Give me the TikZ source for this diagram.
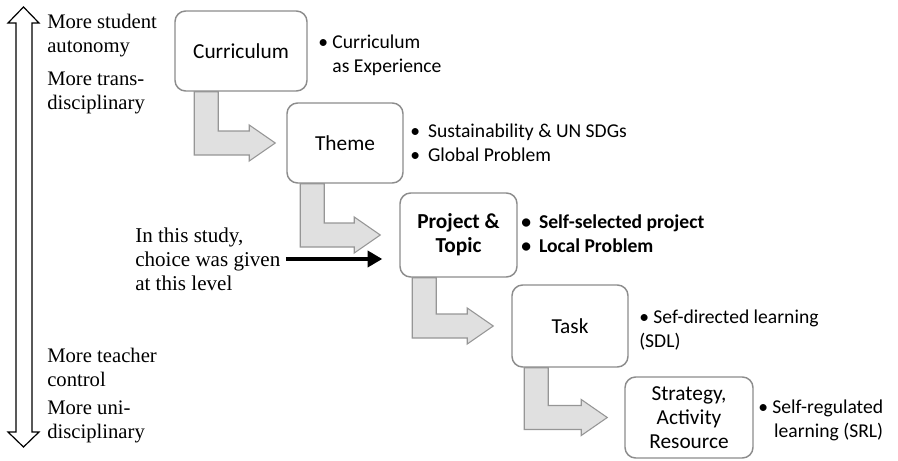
\documentclass[tikz,border=0pt]{standalone}
\usepackage{fontspec}
\setmainfont{Liberation Serif}
\newfontfamily\calfont{Carlito}
\usetikzlibrary{calc,arrows.meta}

\def\pxu{0.75pt}
\definecolor{boxline}{RGB}{140,140,140}
\definecolor{arrowfill}{RGB}{224,224,224}
\definecolor{arrowline}{RGB}{150,150,150}

\tikzset{
  level/.style={draw=boxline, line width=1.1pt, rounded corners=8pt, fill=white,
    align=center, inner sep=2pt, font=\calfont\fontsize{16}{18}\selectfont},
  notes/.style={anchor=west, align=left, inner sep=0pt,
    font=\calfont\fontsize{14.7}{18}\selectfont},
  side/.style={anchor=west, align=left, inner sep=0pt,
    font=\fontsize{15.5}{18}\selectfont},
  bent/.style={fill=arrowfill, draw=arrowline, line width=0.8pt},
}

% bent block arrow: from box #1 down and right into box #2
% #3 = shaft offset from the left side of #1, #4 = gap before #2
\newcommand\bentarrow[4]{%
  \draw[bent] let \p1=(#1.south west), \p2=(#2.west) in
    (\x1+#3*\pxu,\y1) -- (\x1+#3*\pxu,\y2-12*\pxu)
    -- (\x2-#4*\pxu-26*\pxu,\y2-12*\pxu) -- (\x2-#4*\pxu-26*\pxu,\y2-18*\pxu)
    -- (\x2-#4*\pxu,\y2)
    -- (\x2-#4*\pxu-26*\pxu,\y2+18*\pxu) -- (\x2-#4*\pxu-26*\pxu,\y2+12*\pxu)
    -- (\x1+#3*\pxu+24*\pxu,\y2+12*\pxu) -- (\x1+#3*\pxu+24*\pxu,\y1) -- cycle;
}

\begin{document}
\begin{tikzpicture}[x=\pxu, y=-\pxu]
  \useasboundingbox (0,0) rectangle (898,460);

  % autonomy scale
  \draw[line width=0.9pt, fill=white] (23.5,7) -- (39,23) -- (32,23) -- (32,432)
    -- (39,432) -- (23.5,447) -- (8,432) -- (16,432) -- (16,23) -- (8,23) -- cycle;
  \node[side] (auto) at (47,36) {More student\\autonomy};
  \node[side] (trans) at (47,93) {More trans-\\disciplinary};
  \node[side] (teach) at (47,367) {More teacher\\control};
  \node[side] (uni) at (47,422) {More uni-\\disciplinary};

  % levels
  \node[level, minimum width=132*\pxu, minimum height=80*\pxu] (cur) at (241,51) {Curriculum};
  \node[level, minimum width=116*\pxu, minimum height=80*\pxu] (theme) at (345,143) {Theme};
  \node[level, minimum width=117*\pxu, minimum height=84*\pxu, font=\calfont\bfseries\fontsize{16}{18}\selectfont]
    (proj) at (458.5,235) {Project \&\\Topic};
  \node[level, minimum width=116*\pxu, minimum height=82*\pxu] (task) at (570,326) {Task};
  \node[level, minimum width=128*\pxu, minimum height=81*\pxu] (strat) at (689,417.5)
    {Strategy,\\Activity\\Resource};

  \bentarrow{cur}{theme}{20}{11}
  \bentarrow{theme}{proj}{14}{19}
  \bentarrow{proj}{task}{13}{18}
  \bentarrow{task}{strat}{13}{17}

  % notes
  \node[notes] (curnote) at (318,55) {\textbullet\ Curriculum\\\phantom{\textbullet\ }as Experience};
  \node[notes] (themenote) at (410,143) {\textbullet\hspace{6pt}Sustainability \& UN SDGs\\\textbullet\hspace{6pt}Global Problem};
  \node[notes, font=\calfont\bfseries\fontsize{14.7}{18}\selectfont] (projnote) at (521,234)
    {\textbullet\hspace{6pt}Self-selected project\\\textbullet\hspace{6pt}Local Problem};
  \node[notes] (tasknote) at (639,330) {\textbullet\ Sef-directed learning\\(SDL)};
  \node[notes, align=right] (stratnote) at (758,420) {\textbullet\ Self-regulated\\learning (SRL)};

  % where the choice was made
  \node[side, font=\fontsize{15.8}{18}\selectfont] (choice) at (135,259)
    {In this study,\\choice was given\\at this level};
  \draw[-{Triangle[length=11pt,width=12pt]}, line width=3.6pt, shorten <=4pt, shorten >=17*\pxu]
    (choice.east) -- (choice.east -| proj.west);
\end{tikzpicture}
\end{document}
